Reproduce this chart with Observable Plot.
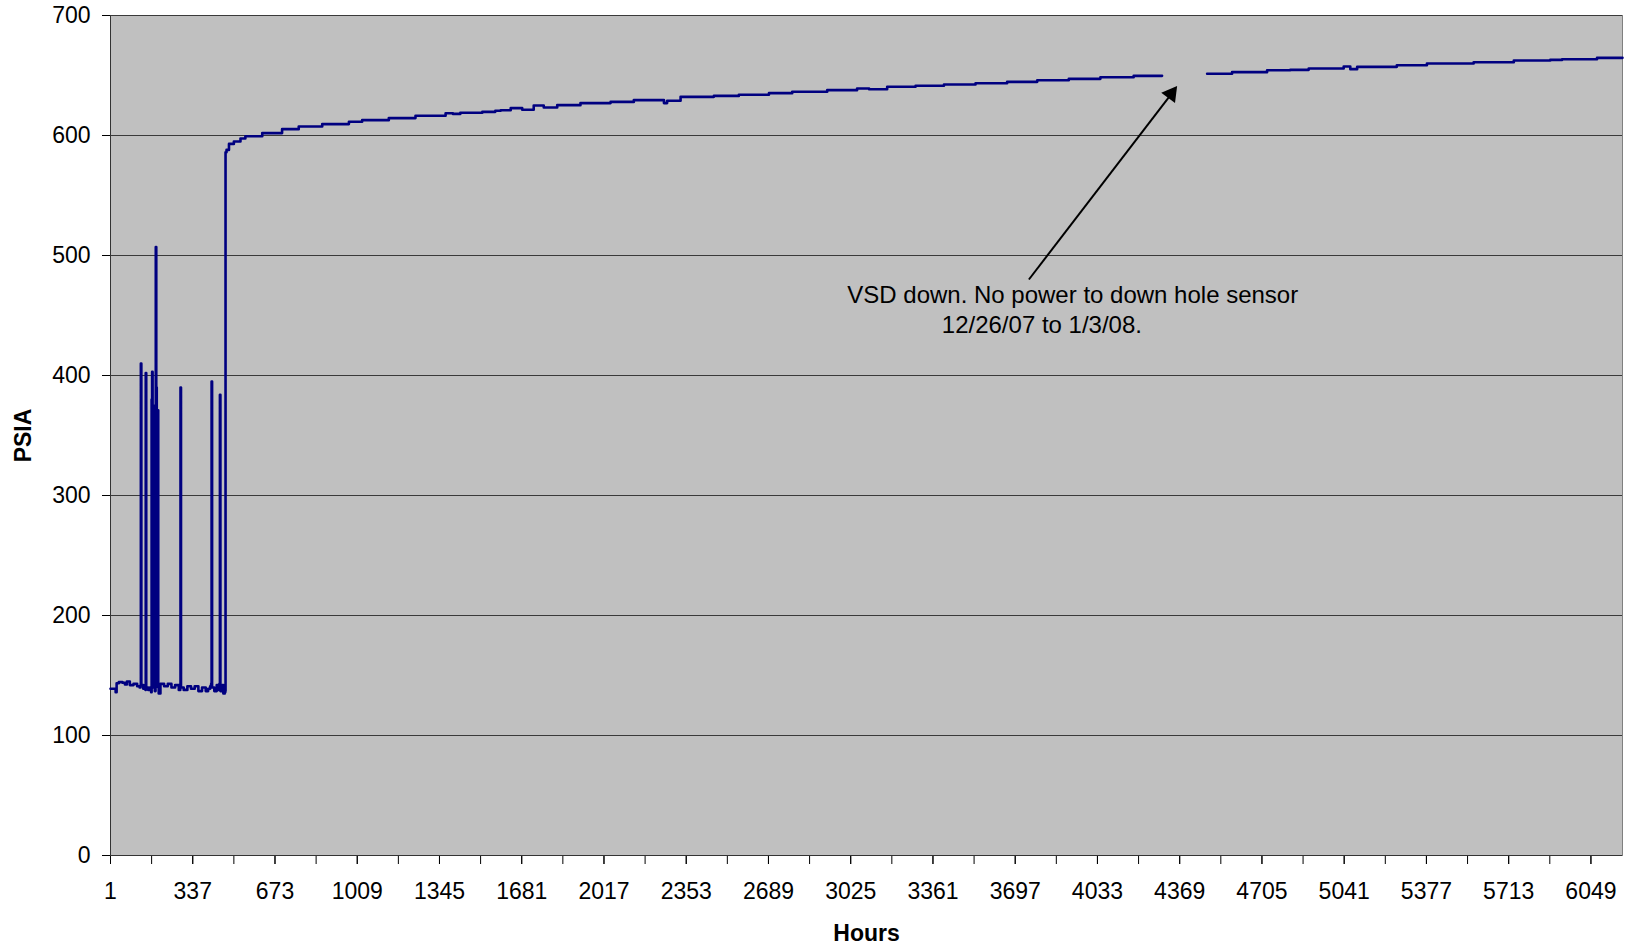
<!DOCTYPE html>
<html><head><meta charset="utf-8">
<script src="https://cdn.jsdelivr.net/npm/d3@7"></script>
<script src="https://cdn.jsdelivr.net/npm/@observablehq/plot@0.6"></script>
<style>body{margin:0;background:#fff}</style>
</head><body><div id="chart"></div>
<script>
// Hourly downhole pressure readings (breakpoints; step-after between them)
const hours = [1,18,22,26,35,50,60,68,80,95,110,120,124,125,127,135,140,144,145,147,155,162,167,169,171,173,176,178,182,185,186,188,190,192,194,196,198,205,220,235,250,265,280,286,287,289,300,315,330,345,360,375,390,400,408,412,414,416,425,435,440,446,448,450,458,462,468,470,
  471,475,485,505,532,552,621,702,770,866,975,1029,1138,1247,1370,1400,1430,1520,1573,1595,1636,1683,1730,1771,1826,1921,2044,2139,2255,2262,2275,2330,2466,2568,2691,2786,2929,3051,3100,3174,3228,3290,3406,3535,3664,3787,3916,4045,4181,4297,
  4300,
  4481,4583,4726,4821,4896,5039,5066,5094,5256,5379,5570,5734,5883,5931,6074,6178];
const psia = [139,139,136,143.5,144.5,144,142.5,145,142,143,141,140,142,410,142,139,141,138,402,140,138,140,136,380,403,150,375,140,137,140,507,390,370,150,371,140,135,143,141,143,140,142,138,140,390,140,138,141,139,141,137,140,137,139,141,143,395,140,137,142,138,143,384,137,142,135,136,137,
  586,588,593,595,597.5,599.4,602,605.3,607.5,609.5,611.4,612.8,614.5,616.4,618.6,618,619,619.7,620.6,621.1,622.8,621.4,625,623.3,625.3,627,628,629.5,629.5,627,629,632.2,633,633.9,635.3,636.4,637.8,639.2,638.5,640.6,640.6,641.4,642.5,643.6,644.7,646.1,647.2,648.6,649.7,649.7,
  NaN,
  651.4,652.8,654.4,654.7,655.8,657.5,655.3,657.2,658.6,660,661.1,662.5,663,663.6,664.7,664.7];

const yTicks = [0,100,200,300,400,500,600,700];
const xMinorTicks = d3.range(1, 6178, 168);
const xLabelTicks = [1,337,673,1009,1345,1681,2017,2353,2689,3025,3361,3697,4033,4369,4705,5041,5377,5713,6049];

// Annotation
const noteLines = ["VSD down. No power to down hole sensor", "12/26/07 to 1/3/08."];
const noteHour = [3932, 3806];
const notePsia = [466.5, 441.6];
const arrowFrom = {hour: 3753, psia: 480};
const arrowTo = {hour: 4340, psia: 636};
const arrowHead = {hour: 4334, psia: 634.7};

const data = hours.map((h, i) => ({hour: h, psia: psia[i]}));
const notes = noteLines.map((t, i) => ({text: t, hour: noteHour[i], psia: notePsia[i]}));

const font = "'Liberation Sans', Arial, sans-serif";
const chart = Plot.plot({
  width: 1631, height: 948,
  marginLeft: 110, marginRight: 9, marginTop: 15, marginBottom: 93,
  style: {fontFamily: font, fontSize: "23px", background: "#fff", color: "#000", overflow: "visible"},
  x: {domain: [1, 6178]},
  y: {domain: [0, 700]},
  marks: [
    Plot.frame({fill: "#c0c0c0", stroke: "#808080"}),
    Plot.gridY(yTicks.filter(d => d > 0), {stroke: "#3a3a3a", strokeOpacity: 1}),
    Plot.axisY(yTicks, {tickSize: 8, tickPadding: 12, label: null, tickFormat: d => String(d), fontSize: 23}),
    Plot.axisX(xMinorTicks, {tickSize: 9, tickFormat: () => "", label: null}),
    Plot.axisX(xLabelTicks, {tickSize: 9, tickPadding: 18, label: null, tickFormat: d => String(d), fontSize: 23}),
    Plot.ruleX([1], {stroke: "#333"}),
    Plot.ruleY([0], {stroke: "#333"}),
    Plot.line(data, {x: "hour", y: "psia", stroke: "#000080", strokeWidth: 2.6, curve: "step-after"}),
    Plot.link([0], {x1: () => arrowFrom.hour, y1: () => arrowFrom.psia, x2: () => arrowTo.hour, y2: () => arrowTo.psia, stroke: "#000", strokeWidth: 2}),
    Plot.dot([arrowHead], {x: "hour", y: "psia", symbol: "triangle", r: 6.4, rotate: 37, fill: "#000", stroke: "none"}),
    Plot.text(notes, {x: "hour", y: "psia", text: "text", fontSize: 24, fill: "#000"}),
    Plot.text(["PSIA"], {frameAnchor: "left", dx: -87, rotate: -90, textAnchor: "middle", lineAnchor: "middle", fontWeight: "bold", fontSize: 23, fill: "#000"}),
    Plot.text(["Hours"], {frameAnchor: "bottom", dy: 78, textAnchor: "middle", lineAnchor: "middle", fontWeight: "bold", fontSize: 23, fill: "#000"})
  ]
});
document.getElementById("chart").appendChild(chart);
</script>
</body></html>
